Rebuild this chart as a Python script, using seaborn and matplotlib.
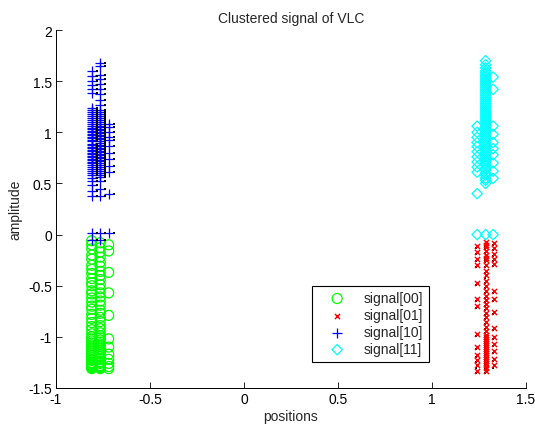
import matplotlib
matplotlib.use("Agg")
import matplotlib.pyplot as plt
import seaborn as sns
import pandas as pd

# ---- data -------------------------------------------------------------
green_x = [-0.81, -0.765, -0.72]
green_a = [-0.06, -0.1, -0.14, -0.2, -0.24, -0.3, -0.34, -0.38, -0.43, -0.47, -0.5,
           -0.55, -0.58, -0.62, -0.66, -0.7, -0.73, -0.78, -0.82, -0.86, -0.9, -0.93,
           -0.97, -1.0, -1.02, -1.04, -1.06, -1.08, -1.1, -1.12, -1.14, -1.16, -1.18,
           -1.2, -1.22, -1.23, -1.25, -1.26, -1.27, -1.28, -1.29, -1.3, -1.31]
green_b = [-0.08, -0.13, -0.17, -0.22, -0.27, -0.31, -0.36, -0.4, -0.44, -0.49, -0.53,
           -0.57, -0.61, -0.65, -0.69, -0.74, -0.77, -0.81, -0.85, -0.89, -0.92, -0.96,
           -0.99, -1.01, -1.03, -1.05, -1.07, -1.09, -1.11, -1.13, -1.15, -1.17, -1.19,
           -1.21, -1.22, -1.24, -1.25, -1.26, -1.28, -1.29, -1.3, -1.31]
green_c = [-0.1, -0.16, -0.37, -0.57, -0.79, -1.02, -1.1, -1.17, -1.22, -1.26, -1.29, -1.31]

red_x = [1.24, 1.285, 1.33]
red_a = [-0.11, -0.17, -0.24, -0.3, -0.47, -0.63, -0.7, -0.97, -1.1, -1.18, -1.23, -1.28, -1.33]
red_b = [-0.07, -0.1, -0.12, -0.16, -0.2, -0.23, -0.25, -0.3, -0.36, -0.4, -0.45, -0.5,
         -0.55, -0.6, -0.64, -0.68, -0.72, -0.77, -0.81, -0.85, -0.9, -0.94, -0.98,
         -1.0, -1.02, -1.04, -1.06, -1.08, -1.1, -1.12, -1.14, -1.16, -1.18, -1.2,
         -1.22, -1.24, -1.26, -1.28, -1.3, -1.33]
red_c = [-0.08, -0.13, -0.19, -0.24, -0.29, -0.55, -0.63, -0.76, -0.91, -1.0, -1.07,
         -1.14, -1.22, -1.28]

blue_x = [-0.81, -0.765, -0.72]
blue_a = [0.02, -0.05, 0.38, 0.43, 0.48, 0.52, 0.55, 0.58, 0.6, 0.62, 0.64, 0.66, 0.68,
          0.7, 0.71, 0.73, 0.74, 0.76, 0.77, 0.79, 0.8, 0.82, 0.83, 0.85, 0.86, 0.88,
          0.89, 0.91, 0.92, 0.94, 0.95, 0.97, 0.98, 1.0, 1.01, 1.03, 1.04, 1.06, 1.08,
          1.1, 1.12, 1.14, 1.16, 1.18, 1.2, 1.22, 1.24, 1.38, 1.42, 1.46, 1.5, 1.55, 1.6]
blue_b = [0.02, -0.05, 0.38, 0.45, 0.52, 0.56, 0.58, 0.6, 0.62, 0.64, 0.66, 0.68, 0.7,
          0.72, 0.73, 0.75, 0.76, 0.78, 0.79, 0.81, 0.82, 0.84, 0.85, 0.87, 0.88, 0.9,
          0.91, 0.93, 0.94, 0.96, 0.97, 0.99, 1.0, 1.02, 1.03, 1.05, 1.06, 1.08, 1.1,
          1.12, 1.14, 1.16, 1.18, 1.2, 1.22, 1.27, 1.32, 1.37, 1.42, 1.47, 1.52, 1.56,
          1.65, 1.68]
blue_c = [0.02, 0.4, 0.61, 0.67, 0.74, 0.8, 0.87, 0.92, 0.95, 1.0, 1.05, 1.08]

cyan_x = [1.24, 1.285, 1.325]
cyan_a = [0.0, 0.4, 0.61, 0.66, 0.71, 0.76, 0.81, 0.86, 0.9, 0.95, 1.0, 1.06]
cyan_b = [0.0, 0.5, 0.53, 0.55, 0.58, 0.6, 0.63, 0.65, 0.68, 0.7, 0.72, 0.74, 0.76, 0.78,
          0.8, 0.82, 0.84, 0.86, 0.88, 0.9, 0.92, 0.94, 0.96, 0.98, 1.0, 1.02, 1.04,
          1.06, 1.08, 1.1, 1.12, 1.14, 1.16, 1.18, 1.2, 1.22, 1.24, 1.26, 1.28, 1.3,
          1.32, 1.34, 1.36, 1.38, 1.4, 1.42, 1.44, 1.46, 1.48, 1.5, 1.52, 1.54, 1.56,
          1.58, 1.6, 1.63, 1.66, 1.7]
cyan_c = [0.0, 0.55, 0.62, 0.7, 0.78, 0.84, 0.9, 0.98, 1.06, 1.42, 1.54]

labels = ["signal[00]", "signal[01]", "signal[10]", "signal[11]"]
x_ticks = [-1, -0.5, 0, 0.5, 1, 1.5]
x_tick_labels = ["-1", "-0.5", "0", "0.5", "1", "1.5"]
y_ticks = [-1.5, -1, -0.5, 0, 0.5, 1, 1.5, 2]
y_tick_labels = ["-1.5", "-1", "-0.5", "0", "0.5", "1", "1.5", "2"]


def frame(xs, cols):
    xx, yy = [], []
    for xv, col in zip(xs, cols):
        xx += [xv] * len(col)
        yy += list(col)
    return pd.DataFrame({"positions": xx, "amplitude": yy})


df_g = frame(green_x, [green_a, green_b, green_c])
df_r = frame(red_x, [red_a, red_b, red_c])
df_b = frame(blue_x, [blue_a, blue_b, blue_c])
df_c = frame(cyan_x, [cyan_a, cyan_b, cyan_c])

# ---- style ------------------------------------------------------------
sns.set_style("ticks")
plt.rcParams["font.family"] = ["Liberation Sans", "DejaVu Sans"]
plt.rcParams["font.size"] = 10
plt.rcParams["xtick.direction"] = "in"
plt.rcParams["ytick.direction"] = "in"

fig = plt.figure(figsize=(5.35, 4.27), dpi=100)
ax = fig.add_axes([56 / 535, 1 - 389 / 427, 470 / 535, 358 / 427])

# green circles
sns.scatterplot(data=df_g, x="positions", y="amplitude", ax=ax, marker="o", s=52,
                facecolors="none", edgecolor="#00ff00", linewidth=0.9, label=labels[0])
# black rendering dots under red crosses
sns.scatterplot(x=df_r["positions"] - 0.004, y=df_r["amplitude"] - 0.02, ax=ax, marker="s",
                s=4, color="black", linewidth=0, label="_nolegend_")
sns.scatterplot(data=df_r, x="positions", y="amplitude", ax=ax, marker="x", s=14,
                color="#ff0000", linewidth=1.0, label=labels[1])
sns.scatterplot(data=df_b, x="positions", y="amplitude", ax=ax, marker="+", s=55,
                color="#0000ff", linewidth=0.9, label=labels[2])
sns.scatterplot(x=df_b["positions"] + 0.026, y=df_b["amplitude"], ax=ax, marker="s",
                s=2.5, color="black", linewidth=0, label="_nolegend_")
sns.scatterplot(data=df_c, x="positions", y="amplitude", ax=ax, marker="D", s=28,
                facecolors="none", edgecolor="#00ffff", linewidth=0.9, label=labels[3])

ax.set_xlim(-1, 1.5)
ax.set_ylim(-1.5, 2)
ax.set_xticks(x_ticks)
ax.set_xticklabels(x_tick_labels)
ax.set_yticks(y_ticks)
ax.set_yticklabels(y_tick_labels)
ax.tick_params(axis="both", length=4, width=0.6, color="black", labelsize=10,
               labelcolor="black", pad=3)
for sp in ["top", "right"]:
    ax.spines[sp].set_visible(False)
for sp in ["left", "bottom"]:
    ax.spines[sp].set_linewidth(0.7)
    ax.spines[sp].set_color("black")

ax.set_title("Clustered signal of VLC", fontsize=10, pad=6)
ax.set_xlabel("positions", fontsize=10, labelpad=2)
ax.set_ylabel("amplitude", fontsize=10, labelpad=4)

handles, labs = ax.get_legend_handles_labels()
leg = ax.legend(handles, labs, loc="lower left", bbox_to_anchor=(0.545, 0.073),
                borderaxespad=0, frameon=True, fancybox=False, framealpha=1,
                edgecolor="black", fontsize=10, handlelength=2.8, handletextpad=0.5,
                borderpad=0.4, labelspacing=0.22)
leg.get_frame().set_linewidth(0.8)

fig.savefig("out.png", dpi=100)
